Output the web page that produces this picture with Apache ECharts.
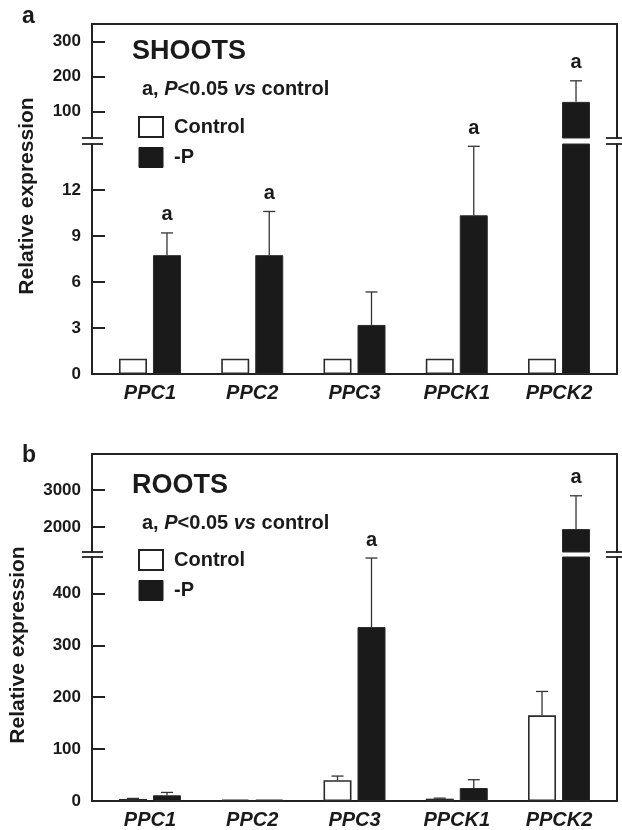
<!DOCTYPE html>
<html><head><meta charset="utf-8">
<script src="https://cdn.jsdelivr.net/npm/echarts@6/dist/echarts.min.js"></script>
<style>html,body{margin:0;padding:0;background:#fff}#c{width:622px;height:830px}</style>
</head><body><div id="c"></div>
<script>
// ---------------- data ----------------
const genes = ['PPC1', 'PPC2', 'PPC3', 'PPCK1', 'PPCK2'];
const seriesNames = ['Control', '-P'];
// Panel a: SHOOTS
const shootsControl   = [1, 1, 1, 1, 1];
const shootsControlSD = [0, 0, 0, 0, 0];
const shootsMinusP    = [7.75, 7.75, 3.2, 10.35, 128];
const shootsMinusPSD  = [1.45, 2.85, 2.15, 4.5, 60];
const shootsSig       = [1, 1, 0, 1, 1];
const shootsLowTicks  = [0, 3, 6, 9, 12];
const shootsHighTicks = [100, 200, 300];
// Panel b: ROOTS
const rootsControl    = [4, 1, 40, 4.5, 165];
const rootsControlSD  = [1, 0, 8, 1, 46];
const rootsMinusP     = [11, 2, 335, 25, 1940];
const rootsMinusPSD   = [5.5, 0, 133, 16, 900];
const rootsSig        = [0, 0, 1, 0, 1];
const rootsLowTicks   = [0, 100, 200, 300, 400];
const rootsHighTicks  = [2000, 3000];

// ---------------- layout / style ----------------
const FF = '"Liberation Sans", Arial, Helvetica, sans-serif';
const INK = '#1a1a1a';
const AX = '#222';
const PLOT_L = 92, PLOT_R = 617;
const X_MIN = -0.567, X_MAX = 4.567;
const BAR_W = 28, BAR_GAP_PX = 6;
const OFF = (BAR_W + BAR_GAP_PX) / 2;

const panels = [
  { title: 'SHOOTS', letter: 'a', ctrl: shootsControl, ctrlSD: shootsControlSD, mp: shootsMinusP, mpSD: shootsMinusPSD, sig: shootsSig,
    hi: { top: 24, bottom: 138, min: 25, max: 350, ticks: shootsHighTicks },
    lo: { top: 144, bottom: 374, min: 0, max: 15, ticks: shootsLowTicks },
    letterY: 17, titleY: 52, subY: 89, legendTop: 116, yTitle: [27, 196] },
  { title: 'ROOTS', letter: 'b', ctrl: rootsControl, ctrlSD: rootsControlSD, mp: rootsMinusP, mpSD: rootsMinusPSD, sig: rootsSig,
    hi: { top: 454, bottom: 552, min: 1320, max: 3970, ticks: rootsHighTicks },
    lo: { top: 557, bottom: 803, min: 0, max: 470, ticks: rootsLowTicks },
    letterY: 456, titleY: 486, subY: 523, legendTop: 549, yTitle: [18, 645] }
];

const grid = [], xAxis = [], yAxis = [], series = [], graphic = [], legend = [];

function errRender(offset) {
  return function (params, api) {
    const x = api.value(0), m = api.value(1), top = api.value(2), sig = api.value(3);
    const cs = params.coordSys;
    const yMin = cs.y, yMax = cs.y + cs.height;
    const p0 = api.coord([x, m]);
    const p1 = api.coord([x, top]);
    if (p0[1] < yMin - 0.5 || p0[1] > yMax + 0.5) return null;
    const cx = p0[0] + offset;
    const children = [];
    if (top > m) {
      const ty = Math.max(p1[1], yMin);
      children.push({ type: 'line', shape: { x1: cx, y1: p0[1], x2: cx, y2: ty }, style: { stroke: '#333', lineWidth: 1.3 } });
      if (p1[1] >= yMin) children.push({ type: 'line', shape: { x1: cx - 6, y1: p1[1], x2: cx + 6, y2: p1[1] }, style: { stroke: '#333', lineWidth: 1.3 } });
    }
    if (sig) {
      children.push({ type: 'text', x: cx, y: Math.min(p1[1], p0[1]) - 18,
        style: { text: 'a', align: 'center', verticalAlign: 'middle', font: 'bold 20px ' + FF, fill: INK } });
    }
    return { type: 'group', children: children };
  };
}

panels.forEach(function (P, pi) {
  ['hi', 'lo'].forEach(function (seg) {
    const S = P[seg];
    const g = grid.length;
    grid.push({ left: PLOT_L, right: 622 - PLOT_R, top: S.top, height: S.bottom - S.top, containLabel: false });
    xAxis.push({
      type: 'value', gridIndex: g, min: X_MIN, max: X_MAX,
      position: seg === 'hi' ? 'top' : 'bottom',
      axisLine: { show: true, onZero: false, lineStyle: { color: AX, width: 2 } },
      axisTick: { show: false }, splitLine: { show: false },
      axisLabel: seg === 'hi' ? { show: false } : {
        show: true, customValues: genes.map(function (_, i) { return i; }),
        formatter: function (v) { return genes[Math.round(v)]; },
        margin: 9, color: INK, fontFamily: FF, fontWeight: 'bold', fontStyle: 'italic', fontSize: 20
      }
    });
    const yl = yAxis.length;
    yAxis.push({
      type: 'value', gridIndex: g, min: S.min, max: S.max, position: 'left',
      axisLine: { show: true, onZero: false, lineStyle: { color: AX, width: 2 } },
      axisTick: { show: true, inside: true, length: 13, customValues: S.ticks, lineStyle: { color: AX, width: 2 } },
      axisLabel: { show: true, customValues: S.ticks, margin: 11, color: INK, fontFamily: FF, fontWeight: 'bold', fontSize: 17,
        formatter: function (v) { return String(v); } },
      splitLine: { show: false }
    });
    yAxis.push({
      type: 'value', gridIndex: g, min: S.min, max: S.max, position: 'right',
      axisLine: { show: true, onZero: false, lineStyle: { color: AX, width: 2 } },
      axisTick: { show: false }, axisLabel: { show: false }, splitLine: { show: false }
    });
    series.push({
      name: seriesNames[0], type: 'bar', xAxisIndex: g, yAxisIndex: yl, barWidth: BAR_W, barGap: (BAR_GAP_PX / BAR_W * 100) + '%',
      clip: true, silent: true, barMinHeight: seg === 'lo' ? 1.5 : 0,
      itemStyle: { color: '#fff', borderColor: '#2a2a2a', borderWidth: 1.6 },
      data: P.ctrl.map(function (v, i) { return [i, v]; })
    });
    series.push({
      name: seriesNames[1], type: 'bar', xAxisIndex: g, yAxisIndex: yl, barWidth: BAR_W, barGap: (BAR_GAP_PX / BAR_W * 100) + '%',
      clip: true, silent: true, barMinHeight: seg === 'lo' ? 1.5 : 0,
      itemStyle: { color: INK, borderColor: '#2a2a2a', borderWidth: 1 },
      data: P.mp.map(function (v, i) { return [i, v]; })
    });
    series.push({
      type: 'custom', xAxisIndex: g, yAxisIndex: yl, renderItem: errRender(-OFF), silent: true, z: 5,
      data: P.ctrl.map(function (v, i) { return [i, v, v + P.ctrlSD[i], 0]; })
    });
    series.push({
      type: 'custom', xAxisIndex: g, yAxisIndex: yl, renderItem: errRender(OFF), silent: true, z: 5,
      data: P.mp.map(function (v, i) { return [i, v, v + P.mpSD[i], P.sig[i]]; })
    });
  });

  // axis break marks
  [P.hi.bottom, P.lo.top].forEach(function (y) {
    graphic.push({ type: 'line', shape: { x1: 82, y1: y, x2: 103, y2: y }, style: { stroke: AX, lineWidth: 1.8 } });
    graphic.push({ type: 'line', shape: { x1: 606, y1: y, x2: 622, y2: y }, style: { stroke: AX, lineWidth: 1.8 } });
  });
  graphic.push({ type: 'text', x: 22, y: P.letterY, style: { text: P.letter, verticalAlign: 'middle', font: 'bold 23px ' + FF, fill: INK } });
  graphic.push({ type: 'text', x: 132, y: P.titleY, style: { text: P.title, verticalAlign: 'middle', font: 'bold 27px ' + FF, fill: INK } });
  graphic.push({ type: 'text', x: 142, y: P.subY, style: {
    text: '{r|a, }{i|P}{r|<0.05 }{i|vs}{r| control}', verticalAlign: 'middle', fill: INK,
    rich: { r: { font: 'bold 20px ' + FF, fill: INK }, i: { font: 'italic bold 20px ' + FF, fill: INK } } } });
  graphic.push({ type: 'text', x: P.yTitle[0], y: P.yTitle[1], rotation: Math.PI / 2,
    style: { text: 'Relative expression', align: 'center', verticalAlign: 'middle', font: 'bold 21px ' + FF, fill: INK } });

  legend.push({
    left: 138, top: P.legendTop, orient: 'vertical', itemWidth: 24, itemHeight: 20, itemGap: 9, padding: 0,
    selectedMode: false,
    textStyle: { fontFamily: FF, fontWeight: 'bold', fontSize: 20, color: INK, padding: [0, 0, 0, 6] },
    data: [
      { name: seriesNames[0], icon: 'rect', itemStyle: { color: '#fff', borderColor: '#222', borderWidth: 2 } },
      { name: seriesNames[1], icon: 'rect', itemStyle: { color: INK, borderColor: INK, borderWidth: 1 } }
    ]
  });
});

const chart = echarts.init(document.getElementById('c'), null, { renderer: 'canvas' });
chart.setOption({
  animation: false,
  backgroundColor: '#fff',
  grid: grid, xAxis: xAxis, yAxis: yAxis, series: series, legend: legend, graphic: graphic
});
</script>
</body></html>
